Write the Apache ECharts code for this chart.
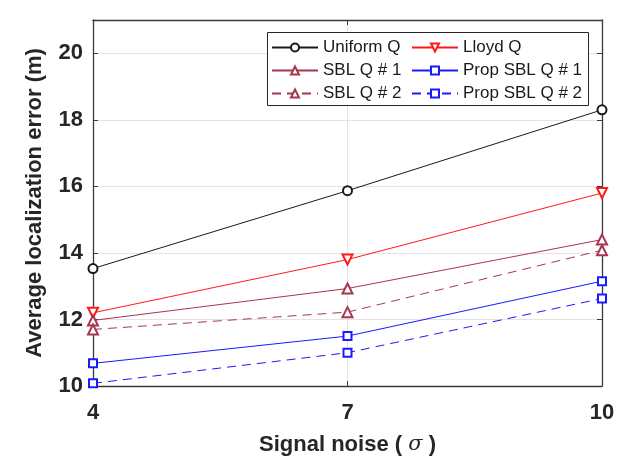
<!DOCTYPE html>
<html>
<head>
<meta charset="utf-8">
<script src="https://cdn.jsdelivr.net/npm/echarts@6/dist/echarts.min.js"></script>
<style>
  html, body { margin: 0; padding: 0; background: #fff; }
  #chart { width: 627px; height: 463px; }
</style>
</head>
<body>
<div id="chart"></div>
<script>
// x categories (signal noise sigma)
const noiseLevels = ['4', '7', '10']

// average localization error (m)
const uniformQ = [13.53, 15.87, 18.3]
const lloydQ = [12.2, 13.8, 15.8]
const sblQ1 = [11.97, 12.93, 14.4]
const sblQ2 = [11.7, 12.22, 14.08]
const propSblQ1 = [10.68, 11.5, 13.15]
const propSblQ2 = [10.08, 11.0, 12.63]

const font = "'Liberation Sans', Arial, sans-serif"
const axisColor = '#3a3a3a'

function mkSeries (name, data, color, symbol, size, dashed, rotate) {
  return {
    name: name,
    type: 'line',
    data: data,
    symbol: symbol,
    symbolSize: size,
    symbolRotate: rotate || 0,
    showSymbol: true,
    color: color,
    lineStyle: { color: color, width: 1, type: dashed ? [9, 6] : 'solid' },
    itemStyle: { color: color, borderColor: color, borderWidth: 1.1 },
    emphasis: { disabled: true },
    z: 5
  }
}

const chart = echarts.init(document.getElementById('chart'))
const legendCommon = {
  orient: 'vertical',
  top: 38,
  itemWidth: 46,
  itemHeight: 10,
  itemGap: 4,
  padding: 0,
  textStyle: { fontFamily: font, fontSize: 17, color: '#1a1a1a', lineHeight: 19 },
  z: 6
}
chart.setOption({
  animation: false,
  backgroundColor: '#fff',
  textStyle: { fontFamily: font },
  grid: { left: 93, right: 25, top: 20, bottom: 77 },
  legend: [
    Object.assign({ left: 271, data: ['Uniform Q', 'SBL Q # 1', 'SBL Q # 2'] }, legendCommon),
    Object.assign({ left: 411, data: ['Lloyd Q', 'Prop SBL Q # 1', 'Prop SBL Q # 2'] }, legendCommon)
  ],
  graphic: [{
    type: 'rect',
    z: 5,
    shape: { x: 267.5, y: 32.5, width: 321, height: 73 },
    style: { fill: '#fff', stroke: '#262626', lineWidth: 1 }
  }],
  xAxis: [
    {
      type: 'category',
      data: noiseLevels,
      boundaryGap: false,
      name: '{b|Signal noise ( }{s|σ}{b| )}',
      nameLocation: 'middle',
      nameGap: 48,
      nameTextStyle: {
        fontFamily: font,
        fontSize: 22,
        fontWeight: 'bold',
        color: '#262626',
        rich: {
          b: { fontFamily: font, fontSize: 22, fontWeight: 'bold', color: '#262626' },
          s: { fontFamily: "'DejaVu Serif', serif", fontSize: 21, fontStyle: 'italic', fontWeight: 'normal', color: '#262626' }
        }
      },
      axisLine: { lineStyle: { color: axisColor, width: 1.3 } },
      axisTick: { inside: true, length: 5, lineStyle: { color: axisColor } },
      axisLabel: { margin: 16, fontFamily: font, fontSize: 22, fontWeight: 'bold', color: '#262626' },
      splitLine: { show: true, lineStyle: { color: '#e3e3e3', width: 1 } }
    },
    {
      type: 'category',
      data: noiseLevels,
      boundaryGap: false,
      position: 'top',
      axisLine: { lineStyle: { color: axisColor, width: 1.3 } },
      axisTick: { inside: true, length: 5, lineStyle: { color: axisColor } },
      axisLabel: { show: false },
      splitLine: { show: false }
    }
  ],
  yAxis: [
    {
      type: 'value',
      min: 10,
      max: 21,
      interval: 2,
      name: 'Average localization error (m)',
      nameLocation: 'middle',
      nameGap: 47,
      nameTextStyle: { fontFamily: font, fontSize: 22, fontWeight: 'bold', color: '#262626' },
      axisLine: { show: true, lineStyle: { color: axisColor, width: 1.3 } },
      axisTick: { show: true, inside: true, length: 5, lineStyle: { color: axisColor } },
      axisLabel: { margin: 10, showMaxLabel: false, fontFamily: font, fontSize: 22, fontWeight: 'bold', color: '#262626' },
      splitLine: { show: true, lineStyle: { color: '#e3e3e3', width: 1 } }
    },
    {
      type: 'value',
      min: 10,
      max: 21,
      interval: 2,
      position: 'right',
      axisLine: { show: true, lineStyle: { color: axisColor, width: 1.3 } },
      axisTick: { show: true, inside: true, length: 5, lineStyle: { color: axisColor } },
      axisLabel: { show: false },
      splitLine: { show: false }
    }
  ],
  series: [
    mkSeries('Uniform Q', uniformQ, '#1a1a1a', 'emptyCircle', 9, false),
    mkSeries('Lloyd Q', lloydQ, '#ff1a1a', 'emptyTriangle', 10, false, 180),
    mkSeries('SBL Q # 1', sblQ1, '#a8364f', 'emptyTriangle', 10, false),
    mkSeries('SBL Q # 2', sblQ2, '#a8364f', 'emptyTriangle', 10, true),
    mkSeries('Prop SBL Q # 1', propSblQ1, '#1a1aff', 'emptyRect', 8, false),
    mkSeries('Prop SBL Q # 2', propSblQ2, '#1a1aff', 'emptyRect', 8, true)
  ]
})
</script>
</body>
</html>
